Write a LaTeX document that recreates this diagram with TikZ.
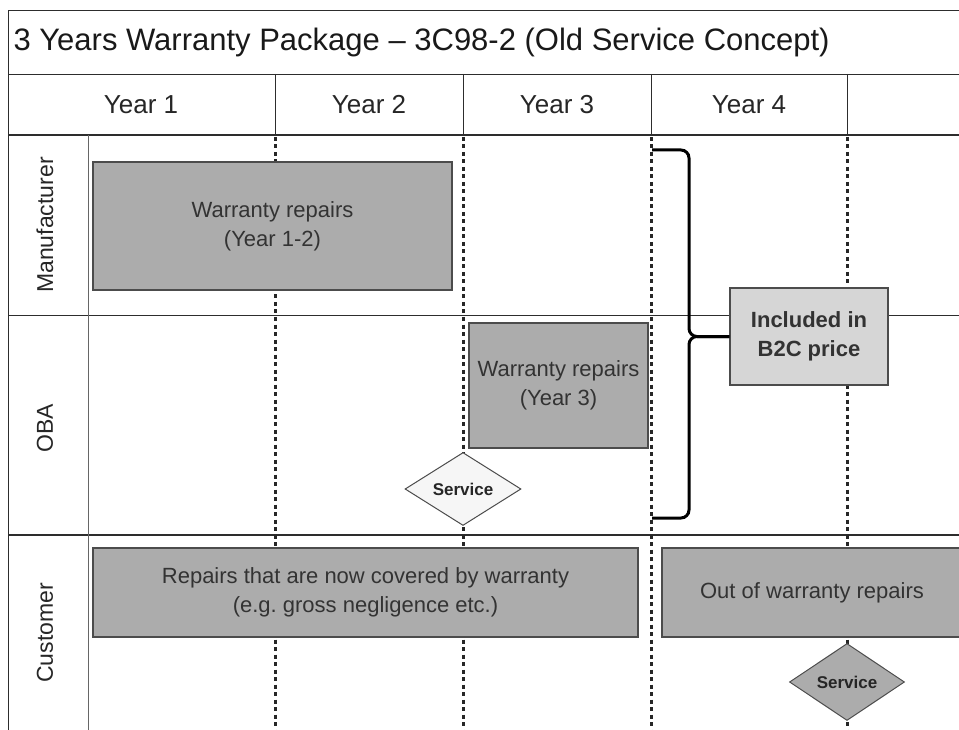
\documentclass[tikz,border=0pt]{standalone}
\usepackage{fontspec}
\setmainfont{Liberation Sans}
\usepackage{tikz}
\usetikzlibrary{shapes.geometric}
\definecolor{actfill}{RGB}{172,172,172}
\definecolor{inclfill}{RGB}{214,214,214}
\definecolor{svcfill}{RGB}{246,246,246}
\definecolor{ink}{RGB}{45,45,45}
\newcommand{\boxtext}{\fontsize{22}{29}\selectfont}
\frenchspacing

\begin{document}
\begin{tikzpicture}[x=1pt, y=-1pt,
  frame/.style={draw=ink, line width=1pt},
  yearline/.style={draw=black!85, line width=3pt, dash pattern=on 4pt off 3.5pt},
  bracket/.style={draw=black, line width=3pt, rounded corners=8pt},
  act/.style={rectangle, draw=black!70, fill=actfill, line width=1.3pt, inner sep=0pt,
              align=center, text=black!80, font=\boxtext},
  incl/.style={act, fill=inclfill, font=\boxtext\bfseries},
  svc/.style={diamond, draw=black!70, fill=svcfill, line width=1pt, inner sep=0pt,
              text=black!85, font=\fontsize{17}{20}\selectfont\bfseries},
  lane/.style={rotate=90, text=black!85, font=\fontsize{23}{27}\selectfont},
  year/.style={text=black!85, font=\fontsize{26}{30}\selectfont}]
  \useasboundingbox (0,0) rectangle (959,730);
  \clip (0,0) rectangle (959,730);
  \draw[frame] (8,11) -- (959,11);
  \draw[frame] (8,11) -- (8,730);
  \draw[frame, line width=0.8pt] (8,74) -- (959,74);
  \draw[frame, line width=1.6pt] (8,135) -- (959,135);
  \draw[frame] (8,315) -- (959,315);
  \draw[frame, line width=2.6pt] (8,535) -- (959,535);
  \draw[draw=black!60, line width=0.8pt] (88,135) -- (88,730);
  \node[anchor=west, text=black!90, font=\fontsize{31}{35}\selectfont] (title) at (10,42)
    {3 Years Warranty Package -- 3C98-2 (Old Service Concept)};
  \draw[frame] (275,74) -- (275,135);
  \draw[frame] (463,74) -- (463,135);
  \draw[frame] (651,74) -- (651,135);
  \draw[frame] (847,74) -- (847,135);
  \node[year] (y1) at (141,105) {Year 1};
  \node[year] (y2) at (369,105) {Year 2};
  \node[year] (y3) at (557,105) {Year 3};
  \node[year] (y4) at (749,105) {Year 4};
  \draw[yearline] (275,137) -- (275,730);
  \draw[yearline] (463,137) -- (463,730);
  \draw[yearline] (651,137) -- (651,730);
  \draw[yearline] (847,137) -- (847,730);
  \node[lane] (lmfr) at (45,225) {Manufacturer};
  \node[lane] (loba) at (45,428) {OBA};
  \node[lane] (lcust) at (45,633) {Customer};
  \node[incl, minimum width=158pt, minimum height=97pt] (inclb) at (809,336.5)
    {Included in\\B2C price};
  \coordinate (btop) at (652,150);
  \coordinate (bbot) at (652,518);
  \draw[bracket] (btop) -- (689,150) -- (689,336.5) -- (inclb.west);
  \draw[bracket] (bbot) -- (689,518) -- (689,336.5) -- (inclb.west);
  \node[act, minimum width=359pt, minimum height=128pt] (mfr) at (272.5,226)
    {Warranty repairs\\(Year 1-2)};
  \node[act, minimum width=179pt, minimum height=125pt] (oba) at (558.5,385.5)
    {Warranty repairs\\(Year 3)};
  \node[svc, minimum width=116pt, minimum height=70pt] (svc1) at (463,489) {Service};
  \node[act, minimum width=545pt, minimum height=89pt] (cust1) at (365.5,592.5)
    {Repairs that are now covered by warranty\\(e.g. gross negligence etc.)};
  \node[act, minimum width=300pt, minimum height=89pt] (cust2) at (812,592.5)
    {Out of warranty repairs};
  \node[svc, fill=actfill, minimum width=115pt, minimum height=77pt] (svc2) at (847,682)
    {Service};
\end{tikzpicture}
\end{document}
